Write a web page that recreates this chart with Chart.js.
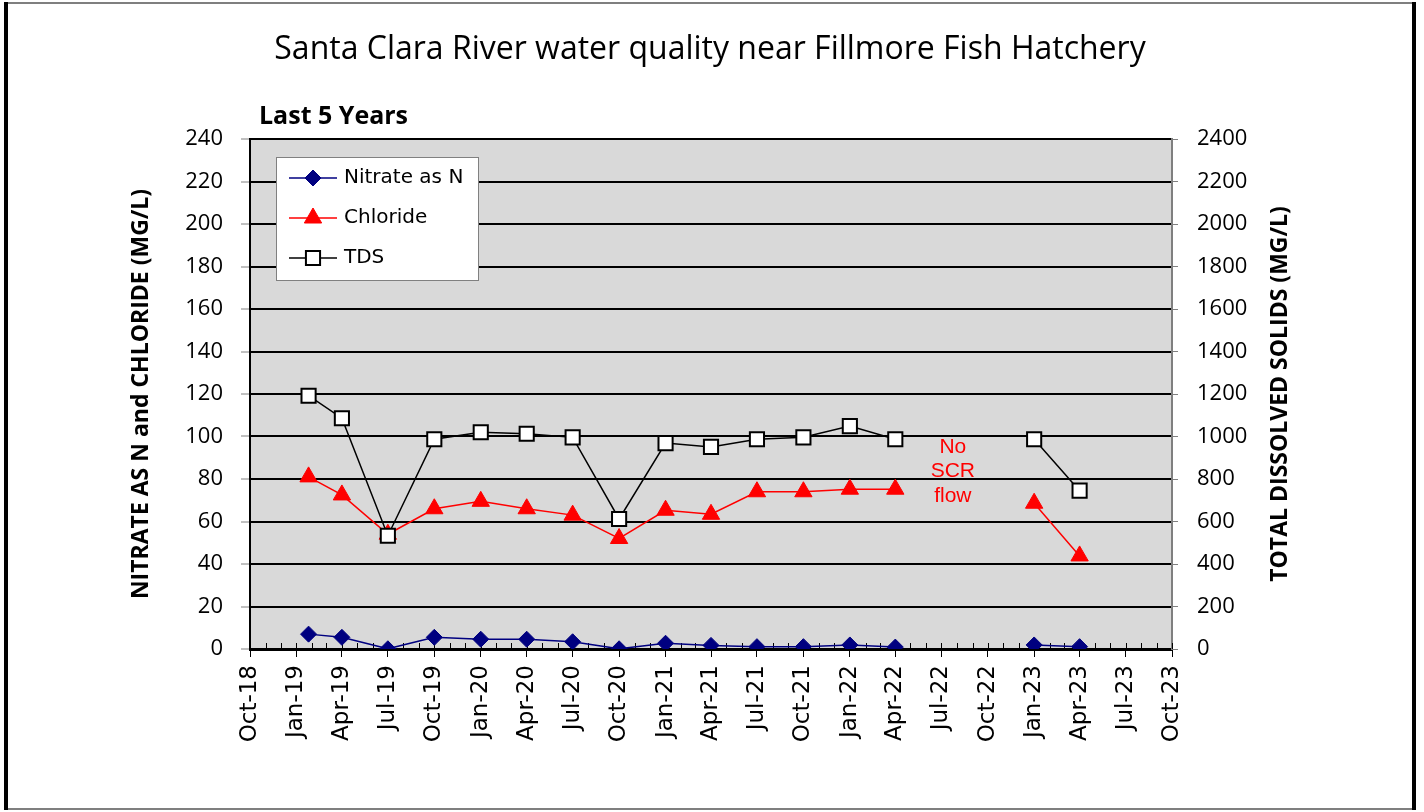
<!DOCTYPE html>
<html>
<head>
<meta charset="utf-8">
<title>Santa Clara River water quality near Fillmore Fish Hatchery</title>
<script src="https://cdn.jsdelivr.net/npm/chart.js@4.4.1/dist/chart.umd.min.js"></script>
<style>
  html, body { margin: 0; padding: 0; background: #fff; }
  #wrap { position: relative; width: 1424px; height: 812px; }
</style>
</head>
<body>
<div id="wrap"><canvas id="wqChart" width="1424" height="812"></canvas></div>
<script>
// ============================================
// Santa Clara River near Fillmore Fish Hatchery
// ============================================

// sample dates (Jul-22 has no SCR flow, so no values)
const sampleDates = ['2019-01-25', '2019-04-01', '2019-07-01', '2019-10-01', '2020-01-01', '2020-04-01',
    '2020-07-01', '2020-10-01', '2021-01-01', '2021-04-01', '2021-07-01', '2021-10-01',
    '2022-01-01', '2022-04-01', '2022-07-01', '2023-01-01', '2023-04-01'];

// mg/L
const nitrate = [7.0, 5.5, 0.1, 5.5, 4.6, 4.6, 3.4, 0.1, 2.7, 1.7, 1.1, 1.1, 1.9, 0.9, null, 1.9, 1.1];
const chloride = [81.0, 72.5, 54.0, 66.0, 69.5, 66.0, 63.0, 52.0, 65.3, 63.4, 74.0, 74.0, 75.2, 75.2, null, 68.6, 43.8];
const tds = [1192, 1086, 533, 987, 1020, 1013, 996, 612, 969, 951, 987, 996, 1049, 987, null, 987, 745];

// quarterly axis ticks
const tickDates = ['2018-10-01', '2019-01-01', '2019-04-01', '2019-07-01', '2019-10-01', '2020-01-01',
    '2020-04-01', '2020-07-01', '2020-10-01', '2021-01-01', '2021-04-01', '2021-07-01', '2021-10-01',
    '2022-01-01', '2022-04-01', '2022-07-01', '2022-10-01', '2023-01-01', '2023-04-01', '2023-07-01',
    '2023-10-01'];
const monthNames = ['Jan', 'Feb', 'Mar', 'Apr', 'May', 'Jun', 'Jul', 'Aug', 'Sep', 'Oct', 'Nov', 'Dec'];

const leftTicks = [0, 20, 40, 60, 80, 100, 120, 140, 160, 180, 200, 220, 240];
const rightTicks = [0, 200, 400, 600, 800, 1000, 1200, 1400, 1600, 1800, 2000, 2200, 2400];

const ORIGIN = Date.UTC(2018, 9, 1);
const DAY = 86400000;

function toDay(s) {
    const [y, m, d] = s.split('-').map(Number);
    return (Date.UTC(y, m - 1, d) - ORIGIN) / DAY;
}

function dayLabel(v) {
    const d = new Date(ORIGIN + Math.round(v) * DAY);
    return monthNames[d.getUTCMonth()] + '-' + String(d.getUTCFullYear()).slice(2);
}

function series(values) {
    return sampleDates.map((s, i) => ({ x: toDay(s), y: values[i] }));
}

const TICK_FONT = '"Open Sans", "Liberation Sans", sans-serif';
const AXIS_FONT = '"DejaVu Sans", Verdana, sans-serif';

// plot background + outer frame
const framePlugin = {
    id: 'frame',
    beforeDraw(chart) {
        const { ctx, chartArea: a } = chart;
        ctx.save();
        ctx.fillStyle = '#fff';
        ctx.fillRect(0, 0, chart.width, chart.height);
        ctx.fillStyle = '#d9d9d9';
        ctx.fillRect(a.left, a.top, a.right - a.left, a.bottom - a.top);
        ctx.restore();
    },
    beforeDatasetsDraw(chart) {
        // monthly minor ticks along the date axis
        const { ctx, chartArea: a, scales } = chart;
        ctx.save();
        ctx.strokeStyle = '#000';
        ctx.lineWidth = 1;
        for (let i = 0; i <= 60; i++) {
            const day = (Date.UTC(2018, 9 + i, 1) - ORIGIN) / DAY;
            const px = Math.round(scales.x.getPixelForValue(day)) + 0.5;
            ctx.beginPath();
            ctx.moveTo(px, a.bottom - 6);
            ctx.lineTo(px, a.bottom);
            ctx.stroke();
        }
        ctx.restore();
    },
    afterDraw(chart) {
        const { ctx } = chart;
        ctx.save();
        ctx.fillStyle = '#7f7f7f';
        ctx.fillRect(4, 2, 1412, 2);
        ctx.fillRect(4, 808, 1412, 2);
        ctx.fillStyle = '#000';
        ctx.fillRect(4, 2, 4, 808);
        ctx.fillRect(1412, 2, 4, 808);
        ctx.restore();
    }
};

// titles, right axis title, note and the boxed legend
const textPlugin = {
    id: 'texts',
    afterDraw(chart) {
        const { ctx, chartArea: a, scales } = chart;
        ctx.save();
        ctx.fillStyle = '#000';
        ctx.textBaseline = 'middle';

        ctx.textAlign = 'center';
        ctx.font = '32px ' + TICK_FONT;
        ctx.fillText('Santa Clara River water quality near Fillmore Fish Hatchery', 710, 50);

        ctx.textAlign = 'left';
        ctx.font = 'bold 25px ' + TICK_FONT;
        ctx.fillText('Last 5 Years', 259, 117);

        // right axis title reads bottom to top
        ctx.save();
        ctx.translate(1280, (a.top + a.bottom) / 2);
        ctx.rotate(-Math.PI / 2);
        ctx.textAlign = 'center';
        ctx.font = 'bold 23px ' + TICK_FONT;
        ctx.fillText('TOTAL DISSOLVED SOLIDS (MG/L)', 0, 0);
        ctx.restore();

        // no flow note
        const nx = scales.x.getPixelForValue(toDay('2022-07-24'));
        const ny = scales.y.getPixelForValue(84);
        ctx.textAlign = 'center';
        ctx.fillStyle = '#ff0000';
        ctx.font = '21px "Liberation Sans", Arial, sans-serif';
        ctx.fillText('No', nx, ny - 23);
        ctx.fillText('SCR', nx, ny + 1);
        ctx.fillText('flow', nx, ny + 26);

        // legend box
        const lx = a.left + 26, ly = a.top + 18, lw = 202, lh = 123;
        ctx.fillStyle = '#fff';
        ctx.fillRect(lx, ly, lw, lh);
        ctx.strokeStyle = '#808080';
        ctx.lineWidth = 1;
        ctx.strokeRect(lx + 0.5, ly + 0.5, lw, lh);

        chart.data.datasets.forEach((ds, i) => {
            const y = ly + 21 + i * 40;
            ctx.strokeStyle = ds.borderColor;
            ctx.lineWidth = ds.borderWidth;
            ctx.beginPath();
            ctx.moveTo(lx + 13, y);
            ctx.lineTo(lx + 61, y);
            ctx.stroke();
            ctx.fillStyle = ds.pointBackgroundColor;
            ctx.strokeStyle = ds.pointBorderColor;
            ctx.lineWidth = ds.pointBorderWidth;
            Chart.helpers.drawPoint(ctx, {
                pointStyle: ds.pointStyle, rotation: 0,
                radius: ds.pointRadius, borderWidth: ds.pointBorderWidth
            }, lx + 37, y);
            ctx.fillStyle = '#000';
            ctx.textAlign = 'left';
            ctx.font = '20px ' + AXIS_FONT;
            ctx.fillText(ds.label, lx + 68, y);
        });
        ctx.restore();
    }
};

const ctx = document.getElementById('wqChart').getContext('2d');
new Chart(ctx, {
    type: 'line',
    data: {
        datasets: [{
            label: 'Nitrate as N',
            data: series(nitrate),
            yAxisID: 'y',
            borderColor: '#000080',
            borderWidth: 1.5,
            pointStyle: 'rectRot',
            pointRadius: 8,
            pointBackgroundColor: '#000080',
            pointBorderColor: '#000080',
            pointBorderWidth: 1,
            order: 2
        }, {
            label: 'Chloride',
            data: series(chloride),
            yAxisID: 'y',
            borderColor: '#ff0000',
            borderWidth: 1.5,
            pointStyle: 'triangle',
            pointRadius: 10,
            pointBackgroundColor: '#ff0000',
            pointBorderColor: '#ff0000',
            pointBorderWidth: 1,
            order: 1
        }, {
            label: 'TDS',
            data: series(tds),
            yAxisID: 'y2',
            borderColor: '#000',
            borderWidth: 1.5,
            pointStyle: 'rect',
            pointRadius: 10,
            pointBackgroundColor: '#fff',
            pointBorderColor: '#000',
            pointBorderWidth: 2,
            order: 0
        }]
    },
    options: {
        responsive: false,
        animation: false,
        devicePixelRatio: 1,
        events: [],
        spanGaps: false,
        layout: { padding: { top: 139, left: 0, right: 0, bottom: 0 } },
        plugins: {
            legend: { display: false },
            tooltip: { enabled: false }
        },
        scales: {
            x: {
                type: 'linear',
                min: toDay(tickDates[0]),
                max: toDay(tickDates[tickDates.length - 1]),
                afterBuildTicks: (scale) => {
                    scale.ticks = tickDates.map(s => ({ value: toDay(s) }));
                },
                afterFit: (scale) => { scale.height = 163; },
                grid: { drawOnChartArea: false, drawTicks: true, tickLength: 8, tickColor: '#000', tickWidth: 1 },
                border: { color: '#000', width: 3 },
                ticks: {
                    autoSkip: false,
                    maxRotation: 90,
                    minRotation: 90,
                    padding: 8,
                    color: '#000',
                    font: { family: AXIS_FONT, size: 23 },
                    callback: (v) => dayLabel(v)
                }
            },
            y: {
                position: 'left',
                min: 0,
                max: 240,
                afterBuildTicks: (scale) => {
                    scale.ticks = leftTicks.map(v => ({ value: v }));
                },
                afterFit: (scale) => { scale.width = 250; },
                grid: { color: '#000', lineWidth: 2, drawTicks: true, tickLength: 9, tickColor: '#808080', tickWidth: 1 },
                border: { color: '#000', width: 2 },
                ticks: {
                    padding: 18,
                    color: '#000',
                    font: { family: TICK_FONT, size: 22 }
                },
                title: {
                    display: true,
                    text: 'NITRATE AS N and CHLORIDE (MG/L)',
                    color: '#000',
                    font: { family: TICK_FONT, size: 23, weight: 'bold' },
                    padding: { top: 128, bottom: 0 }
                }
            },
            y2: {
                position: 'right',
                min: 0,
                max: 2400,
                afterBuildTicks: (scale) => {
                    scale.ticks = rightTicks.map(v => ({ value: v }));
                },
                afterFit: (scale) => { scale.width = 252; },
                grid: { drawOnChartArea: false, drawTicks: true, tickLength: 6, tickColor: '#808080', tickWidth: 1 },
                border: { color: '#7f7f7f', width: 2 },
                ticks: {
                    padding: 19,
                    color: '#000',
                    font: { family: TICK_FONT, size: 22 },
                    callback: (v) => String(v)
                }
            }
        }
    },
    plugins: [framePlugin, textPlugin]
});
</script>
</body>
</html>
